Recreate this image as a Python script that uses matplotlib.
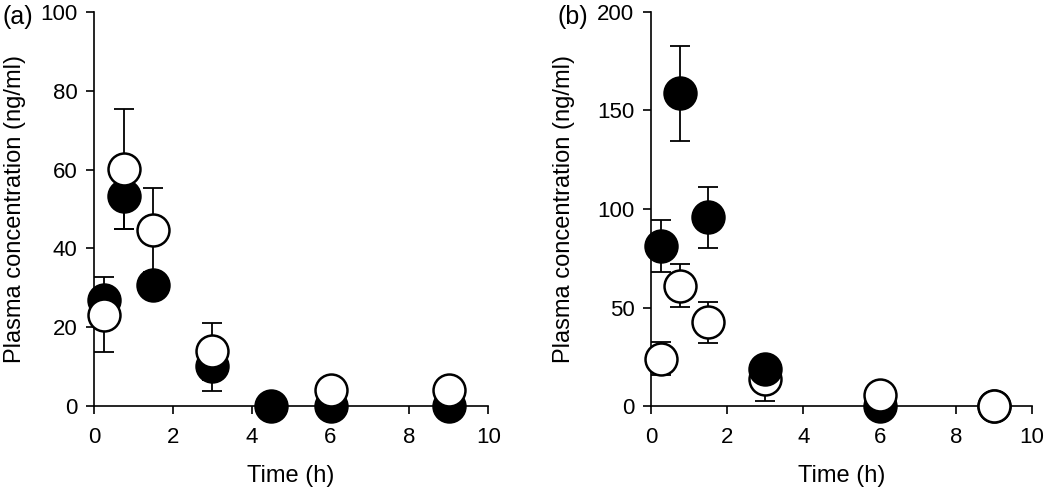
import matplotlib
matplotlib.use("Agg")
import matplotlib.pyplot as plt

plt.rcParams['font.family'] = ['Liberation Sans', 'DejaVu Sans']

# ------------------------------------------------------------
# Data
# ------------------------------------------------------------
# panel (a)
a_filled_t = [0.25, 0.75, 1.5, 3, 4.5, 6, 9]
a_filled_y = [27.0, 53.4, 30.8, 10.1, 0.0, 0.0, 0.0]
a_filled_err = [3.0, 8.4, 3.0, 6.3, 0.0, 0.0, 0.0]

a_open_t = [0.25, 0.75, 1.5, 3, 6, 9]
a_open_y = [23.2, 60.2, 44.7, 13.9, 4.2, 4.0]
a_open_err = [9.5, 15.2, 10.6, 7.2, 0.0, 0.0]

# panel (b)
b_filled_t = [0.25, 0.75, 1.5, 3, 6, 9]
b_filled_y = [81.4, 158.6, 95.7, 18.9, 0.0, 0.0]
b_filled_err = [13.2, 24.2, 15.4, 3.0, 0.0, 0.0]
b_filled_on_top = [False, False, False, True, False, False]

b_open_t = [0.25, 0.75, 1.5, 3, 6, 9]
b_open_y = [24.0, 61.1, 42.5, 13.5, 5.6, 0.0]
b_open_err = [8.3, 11.0, 10.5, 11.0, 0.0, 0.0]

MS = 23
MEW = 1.8
ERR_KW = dict(fmt='none', ecolor='black', elinewidth=1.3, capsize=7,
              capthick=1.3, zorder=1, clip_on=False)


def style_axes(ax, ymax, yticks, ylab_x):
    ax.set_xlim(0, 10)
    ax.set_ylim(0, ymax)
    ax.set_xticks([0, 2, 4, 6, 8, 10])
    ax.set_yticks(yticks)
    for s in ['top', 'right']:
        ax.spines[s].set_visible(False)
    for s in ['left', 'bottom']:
        ax.spines[s].set_linewidth(1.2)
        ax.spines[s].set_zorder(2)
    ax.tick_params(direction='out', length=6, width=1.2, labelsize=16)
    ax.tick_params(axis='x', pad=9)
    ax.tick_params(axis='y', pad=6)
    ax.set_xlabel('Time (h)', fontsize=17)
    ax.set_ylabel('Plasma concentration (ng/ml)', fontsize=17)
    ax.xaxis.set_label_coords(0.5, -0.15)
    ax.yaxis.set_label_coords(ylab_x, 0.5)


fig = plt.figure(figsize=(10.5, 4.94), dpi=100)
ax1 = fig.add_axes([0.0895, 0.178, 0.3755, 0.798])
ax2 = fig.add_axes([0.62, 0.178, 0.363, 0.798])

# (a): open circles drawn over filled ones
ax1.errorbar(a_filled_t, a_filled_y, yerr=a_filled_err, **ERR_KW)
ax1.errorbar(a_open_t, a_open_y, yerr=a_open_err, **ERR_KW)
ax1.plot(a_filled_t, a_filled_y, 'o', ms=MS, mfc='black', mec='black', mew=MEW,
         zorder=3, clip_on=False)
ax1.plot(a_open_t, a_open_y, 'o', ms=MS, mfc='white', mec='black', mew=MEW,
         zorder=4, clip_on=False)
style_axes(ax1, 100, [0, 20, 40, 60, 80, 100], -0.173)

# (b): mostly open on top, filled point at 3 h sits over the open one
ax2.errorbar(b_filled_t, b_filled_y, yerr=b_filled_err, **ERR_KW)
ax2.errorbar(b_open_t, b_open_y, yerr=b_open_err, **ERR_KW)
for t, y, top in zip(b_filled_t, b_filled_y, b_filled_on_top):
    ax2.plot([t], [y], 'o', ms=MS, mfc='black', mec='black', mew=MEW,
             zorder=5 if top else 3, clip_on=False)
ax2.plot(b_open_t, b_open_y, 'o', ms=MS, mfc='white', mec='black', mew=MEW,
         zorder=4, clip_on=False)
style_axes(ax2, 200, [0, 50, 100, 150, 200], -0.2)

fig.text(0.002, 0.99, '(a)', fontsize=18, va='top', ha='left')
fig.text(0.531, 0.99, '(b)', fontsize=18, va='top', ha='left')

fig.savefig('out.png', dpi=100)
